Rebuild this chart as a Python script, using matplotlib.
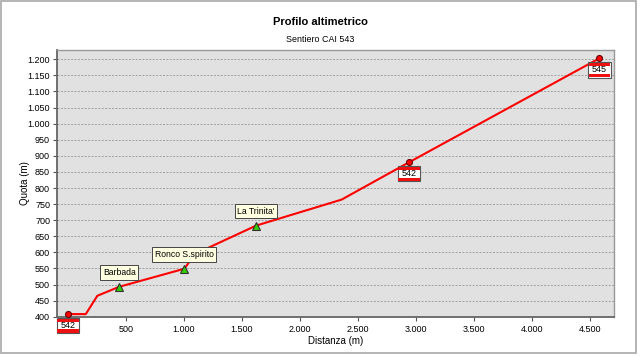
import matplotlib
matplotlib.use("Agg")
import matplotlib.pyplot as plt
from matplotlib.patches import Rectangle
from matplotlib.offsetbox import DrawingArea, AnnotationBbox
from matplotlib.ticker import FuncFormatter, MultipleLocator

# profile of the path (distance m, altitude m)
dist = [0, 153, 253, 442, 1003, 1095, 1621, 2359, 2940, 4580]
quota = [408, 408, 465, 493, 549, 595, 683, 764, 880, 1203]

# named places (green triangles)
place_names = ["Barbada", "Ronco S.spirito", "La Trinita'"]
place_dist = [442, 1003, 1621]
place_quota = [493, 549, 683]

# trail signs (red dots)
sign_names = ["542", "542", "545"]
sign_dist = [0, 2940, 4580]
sign_quota = [408, 880, 1203]

plt.rcParams['font.family'] = ['Liberation Sans', 'DejaVu Sans']

fig = plt.figure(figsize=(6.4, 3.57), dpi=100)
fig.patch.set_facecolor("white")
fig.patches.append(Rectangle((1/640, 1 - 353/357), 635/640, 352/357,
                             transform=fig.transFigure, fill=False,
                             edgecolor="#a8a8a8", linewidth=1.2))

ax = fig.add_axes([57/640, 1 - 317/357, 557/640, 267/357])
ax.set_facecolor("#e1e1e1")
ax.set_axisbelow(True)

ax.plot(dist, quota, color="#ff0000", linewidth=1.5, zorder=3)
ax.plot(place_dist, place_quota, linestyle="none", marker="^", markersize=6,
        markerfacecolor="#33cc00", markeredgecolor="#333333", markeredgewidth=0.8, zorder=4)
ax.plot(sign_dist, sign_quota, linestyle="none", marker="o", markersize=4.3,
        markerfacecolor="#ff0000", markeredgecolor="#660000", markeredgewidth=0.8, zorder=4)

for name, x, y in zip(place_names, place_dist, place_quota):
    ax.annotate(name, (x, y), xytext=(0, 10.3), textcoords="offset points",
                ha="center", va="center", fontsize=6.2, zorder=6,
                bbox=dict(boxstyle="square,pad=0.3", facecolor="#ffffe1",
                          edgecolor="#444444", linewidth=0.7))

# red-white-red trail sign boxes
w, h = 16.5, 11
for name, x, y in zip(sign_names, sign_dist, sign_quota):
    da = DrawingArea(w, h, 0, 0)
    da.add_artist(Rectangle((0, 0), w, h, facecolor="white", edgecolor="#555555", linewidth=0.8))
    da.add_artist(Rectangle((0.5, 0.5), w - 1, 2.3, facecolor="#ee1111", edgecolor="none"))
    da.add_artist(Rectangle((0.5, h - 2.8), w - 1, 2.3, facecolor="#ee1111", edgecolor="none"))
    t = plt.Text(w / 2, h / 2, name, ha="center", va="center", fontsize=6.5, color="black")
    da.add_artist(t)
    ab = AnnotationBbox(da, (x, y), xybox=(0, -8.3), boxcoords="offset points",
                        frameon=False, pad=0, box_alignment=(0.5, 0.5), zorder=7,
                        annotation_clip=False)
    ax.add_artist(ab)


def thousands(v, p):
    if abs(v) < 1:
        return ""  # hidden under the first sign
    return f"{int(round(v)):,}".replace(",", ".")


ax.set_xlim(-95, 4707)
ax.set_ylim(399, 1229)
ax.xaxis.set_major_locator(MultipleLocator(500))
ax.yaxis.set_major_locator(MultipleLocator(50))
ax.xaxis.set_major_formatter(FuncFormatter(thousands))
ax.yaxis.set_major_formatter(FuncFormatter(thousands))
ax.tick_params(labelsize=6.5, length=3, width=0.8, color="#555555", pad=2)
ax.tick_params(axis="x", pad=3)

ax.yaxis.grid(True, linestyle=(0, (2, 1.5)), color="#a0a0a0", linewidth=0.7)
for s in ["left", "bottom"]:
    ax.spines[s].set_color("#666666")
    ax.spines[s].set_linewidth(1.3)
for s in ["top", "right"]:
    ax.spines[s].set_color("#999999")
    ax.spines[s].set_linewidth(1.0)

ax.set_xlabel("Distanza (m)", fontsize=7, labelpad=1)
ax.set_ylabel("Quota (m)", fontsize=7, labelpad=0)
ax.yaxis.set_label_coords(-(57 - 30) / 557, 0.5)

fig.text(0.5, 1 - 22/357, "Profilo altimetrico", ha="center", va="center",
         fontsize=8, fontweight="bold")
fig.text(0.5, 1 - 40/357, "Sentiero CAI 543", ha="center", va="center", fontsize=6.4)

fig.savefig("out.png", dpi=100)
